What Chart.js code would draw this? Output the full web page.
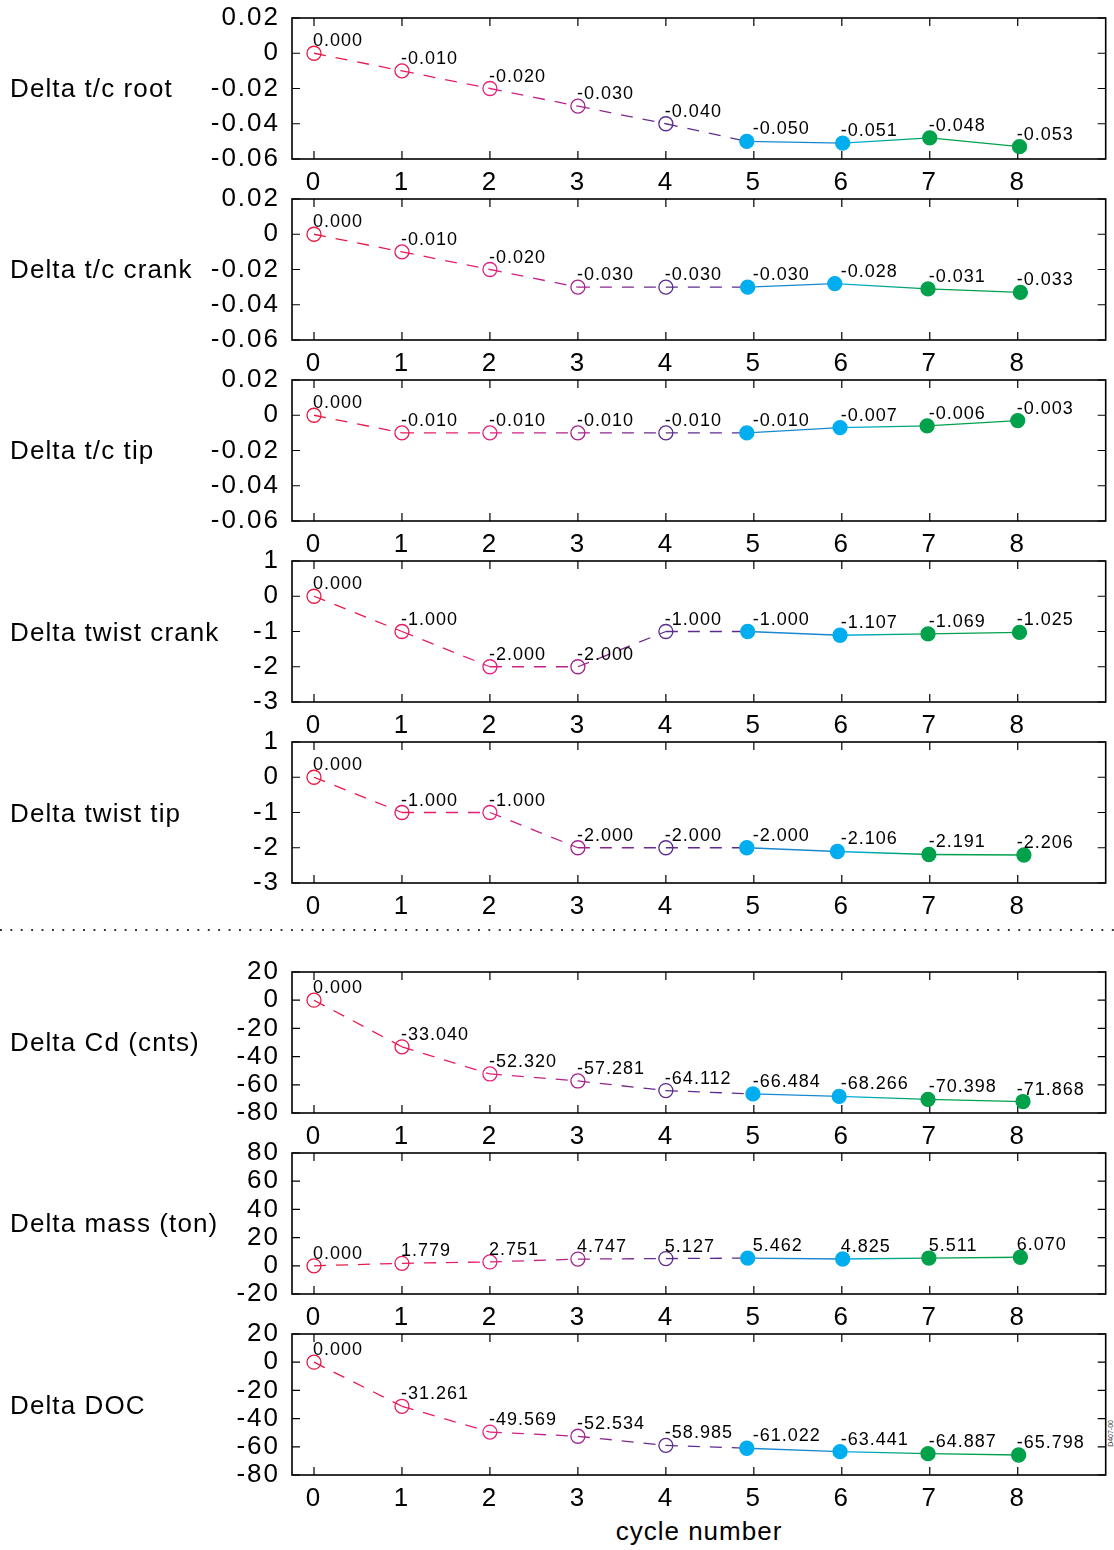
<!DOCTYPE html>
<html>
<head>
<meta charset="utf-8">
<script src="https://cdn.jsdelivr.net/npm/chart.js@4/dist/chart.umd.min.js"></script>
<style>
  body { margin: 0; background: #fff; width: 1114px; height: 1550px; position: relative; overflow: hidden;
         font-family: "Liberation Sans", Arial, sans-serif; color: #000; }
  canvas { position: absolute; left: 0; }
  .ttl { position: absolute; left: 10px; font-size: 26px; letter-spacing: 1.1px; white-space: nowrap; transform: translateY(-50%); }
  .sep { position: absolute; left: 0; top: 929px; width: 1114px; height: 2px;
         background-image: linear-gradient(to right, #333 1.6px, transparent 1.6px); background-size: 10.4px 1.6px; background-repeat: repeat-x; }
  .xt { position: absolute; left: 699px; top: 1531px; font-size: 26px; letter-spacing: 1px; transform: translate(-50%, -50%); white-space: nowrap; }
  .stamp { position: absolute; left: 1107px; top: 1420px; font-size: 7px; writing-mode: vertical-rl; transform: rotate(180deg); color: #333; }
</style>
</head>
<body>
<div class="sep"></div>
<div class="xt">cycle number</div>
<div class="stamp">D407-00</div>
<script>
// label positions on the x axis
const cycles = [0, 1, 2, 3, 4, 5, 6, 7, 8];
const cycleLabels = ['0', '1', '2', '3', '4', '5', '6', '7', '8'];

// y tick values / labels
const tcTicks = [-0.06, -0.04, -0.02, 0, 0.02];
const tcTickLabels = ['-0.06', '-0.04', '-0.02', '0', '0.02'];
const twistTicks = [-3, -2, -1, 0, 1];
const twistTickLabels = ['-3', '-2', '-1', '0', '1'];
const dragTicks = [-80, -60, -40, -20, 0, 20];
const dragTickLabels = ['-80', '-60', '-40', '-20', '0', '20'];
const massTicks = [-20, 0, 20, 40, 60, 80];
const massTickLabels = ['-20', '0', '20', '40', '60', '80'];

// series (x where the marker sits, y value)
const tcRootX = [0, 1, 2, 3, 4, 4.92, 6.01, 7.0, 8.02];
const tcRootY = [0, -0.010, -0.020, -0.030, -0.040, -0.050, -0.051, -0.048, -0.053];
const tcCrankX = [0, 1, 2, 3, 4, 4.93, 5.92, 6.98, 8.03];
const tcCrankY = [0, -0.010, -0.020, -0.030, -0.030, -0.030, -0.028, -0.031, -0.033];
const tcTipX = [0, 1, 2, 3, 4, 4.92, 5.98, 6.97, 8.0];
const tcTipY = [0, -0.010, -0.010, -0.010, -0.010, -0.010, -0.007, -0.006, -0.003];
const twistCrankX = [0, 1, 2, 3, 4, 4.93, 5.98, 6.98, 8.02];
const twistCrankY = [0, -1.000, -2.000, -2.000, -1.000, -1.000, -1.107, -1.069, -1.025];
const twistTipX = [0, 1, 2, 3, 4, 4.92, 5.95, 6.99, 8.07];
const twistTipY = [0, -1.000, -1.000, -2.000, -2.000, -2.000, -2.106, -2.191, -2.206];
const cdX = [0, 1, 2, 3, 4, 4.99, 5.97, 6.98, 8.06];
const cdY = [0, -33.040, -52.320, -57.281, -64.112, -66.484, -68.266, -70.398, -71.868];
const massX = [0, 1, 2, 3, 4, 4.93, 6.01, 6.99, 8.03];
const massY = [0, 1.779, 2.751, 4.747, 5.127, 5.462, 4.825, 5.511, 6.070];
const docX = [0, 1, 2, 3, 4, 4.92, 5.98, 6.98, 8.01];
const docY = [0, -31.261, -49.569, -52.534, -58.985, -61.022, -63.441, -64.887, -65.798];

const pointColors = ['#e8173f', '#e81a58', '#e6207e', '#a5228f', '#5b2c8e', '#00aeef', '#00aeef', '#00a14b', '#00a14b'];

const panels = [
  { title: 'Delta t/c root', xs: tcRootX, ys: tcRootY, ticks: tcTicks, tickLabels: tcTickLabels, top: 17.5 },
  { title: 'Delta t/c crank', xs: tcCrankX, ys: tcCrankY, ticks: tcTicks, tickLabels: tcTickLabels, top: 198.7 },
  { title: 'Delta t/c tip', xs: tcTipX, ys: tcTipY, ticks: tcTicks, tickLabels: tcTickLabels, top: 379.9 },
  { title: 'Delta twist crank', xs: twistCrankX, ys: twistCrankY, ticks: twistTicks, tickLabels: twistTickLabels, top: 561.1 },
  { title: 'Delta twist tip', xs: twistTipX, ys: twistTipY, ticks: twistTicks, tickLabels: twistTickLabels, top: 742.3 },
  { title: 'Delta Cd (cnts)', xs: cdX, ys: cdY, ticks: dragTicks, tickLabels: dragTickLabels, top: 971.7 },
  { title: 'Delta mass (ton)', xs: massX, ys: massY, ticks: massTicks, tickLabels: massTickLabels, top: 1152.9 },
  { title: 'Delta DOC', xs: docX, ys: docY, ticks: dragTicks, tickLabels: dragTickLabels, top: 1334.1 }
];

const PAD_TOP = 30, AREA_H = 141, XAXIS_H = 39, YAXIS_W = 292;

// frame + inward tick marks + value labels
const framePlugin = {
  id: 'frame',
  beforeDraw(chart) {
    chart.ctx.letterSpacing = '2px';
  },
  beforeDatasetsDraw(chart) {
    const { ctx, chartArea: a, scales } = chart;
    ctx.save();
    ctx.strokeStyle = '#000';
    ctx.lineWidth = 1.2;
    ctx.beginPath();
    scales.x.ticks.forEach(t => {
      const x = scales.x.getPixelForValue(t.value);
      ctx.moveTo(x, a.top); ctx.lineTo(x, a.top + 8);
      ctx.moveTo(x, a.bottom); ctx.lineTo(x, a.bottom - 8);
    });
    scales.y.ticks.forEach(t => {
      const y = scales.y.getPixelForValue(t.value);
      ctx.moveTo(a.left, y); ctx.lineTo(a.left + 8, y);
      ctx.moveTo(a.right, y); ctx.lineTo(a.right - 8, y);
    });
    ctx.stroke();
    ctx.lineWidth = 1.6;
    ctx.strokeRect(a.left, a.top, a.right - a.left, a.bottom - a.top);
    ctx.restore();
  },
  afterDatasetsDraw(chart) {
    const { ctx, scales } = chart;
    const ys = chart.data.datasets[0].data.map(d => d.y);
    ctx.save();
    ctx.font = '18px "Liberation Sans", Arial, sans-serif';
    ctx.letterSpacing = '1px';
    ctx.fillStyle = '#000';
    ctx.textAlign = 'left';
    ctx.textBaseline = 'alphabetic';
    ys.forEach((v, i) => {
      const x = scales.x.getPixelForValue(cycles[i]) - 1;
      const y = scales.y.getPixelForValue(v) - 7;
      ctx.fillText(v.toFixed(3), x, y);
    });
    ctx.restore();
  }
};

panels.forEach(p => {
  const canvasTop = Math.round(p.top - PAD_TOP);
  const cv = document.createElement('canvas');
  cv.width = 1114;
  cv.height = PAD_TOP + AREA_H + XAXIS_H;
  cv.style.top = canvasTop + 'px';
  document.body.appendChild(cv);

  const t = document.createElement('div');
  t.className = 'ttl';
  t.textContent = p.title;
  t.style.top = (p.top + AREA_H / 2) + 'px';
  document.body.appendChild(t);

  new Chart(cv, {
    type: 'line',
    data: {
      datasets: [{
        data: p.xs.map((x, i) => ({ x: x, y: p.ys[i] })),
        borderWidth: 1.3,
        pointRadius: 7,
        pointHoverRadius: 7,
        pointBorderWidth: 1.3,
        pointBorderColor: pointColors,
        pointBackgroundColor: pointColors.map((c, i) => i < 5 ? 'rgba(0,0,0,0)' : c),
        segment: {
          borderColor: ctx => {
            const i = ctx.p0DataIndex;
            if (i === 4) return pointColors[4];
            if (i === 5) return '#1788cf';
            const g = ctx.chart.ctx.createLinearGradient(ctx.p0.x, ctx.p0.y, ctx.p1.x, ctx.p1.y);
            g.addColorStop(0, pointColors[i]);
            g.addColorStop(1, pointColors[i + 1]);
            return g;
          },
          borderDash: ctx => ctx.p0DataIndex < 5 ? [12, 10] : []
        },
        tension: 0,
        fill: false
      }]
    },
    options: {
      responsive: false,
      animation: false,
      events: [],
      layout: { padding: { top: PAD_TOP, right: 8, left: 0, bottom: 0 } },
      plugins: { legend: { display: false }, tooltip: { enabled: false } },
      scales: {
        x: {
          type: 'linear',
          min: -0.25,
          max: 9,
          afterBuildTicks: s => { s.ticks = cycles.map(v => ({ value: v })); },
          afterFit: s => { s.height = XAXIS_H; },
          grid: { display: false, drawTicks: false },
          border: { display: false },
          ticks: {
            autoSkip: false,
            maxRotation: 0,
            padding: 8,
            color: '#000',
            font: { family: '"Liberation Sans", Arial, sans-serif', size: 26 },
            callback: (v, i) => cycleLabels[i]
          }
        },
        y: {
          type: 'linear',
          min: p.ticks[0],
          max: p.ticks[p.ticks.length - 1],
          afterBuildTicks: s => { s.ticks = p.ticks.map(v => ({ value: v })); },
          afterFit: s => { s.width = YAXIS_W; },
          grid: { display: false, drawTicks: false },
          border: { display: false },
          ticks: {
            autoSkip: false,
            padding: 12,
            color: '#000',
            font: { family: '"Liberation Sans", Arial, sans-serif', size: 26 },
            callback: (v, i) => p.tickLabels[i]
          }
        }
      }
    },
    plugins: [framePlugin]
  });
});
</script>
</body>
</html>
